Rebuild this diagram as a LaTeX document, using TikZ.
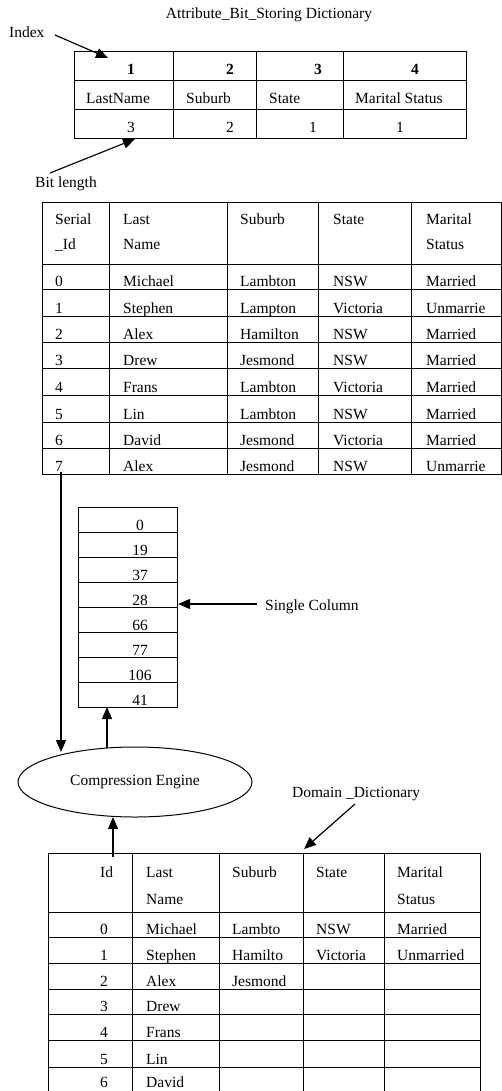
\documentclass[tikz,border=0pt]{standalone}
\usepackage{fontspec}
\setmainfont{Liberation Serif}
\usetikzlibrary{arrows.meta,shapes.geometric}
\begin{document}
\begin{tikzpicture}[x=1pt,y=-1pt,
  txt/.style={font=\fontsize{15.5}{18}\selectfont, inner sep=0pt, anchor=base west},
  ctxt/.style={txt, anchor=base},
  btxt/.style={ctxt, font=\fontsize{15.5}{18}\selectfont\bfseries},
  grid/.style={line width=1pt},
  arr/.style={line width=1.2pt, -{Triangle[length=12pt,width=10pt]}}]

\useasboundingbox[fill=white] (0,0) rectangle (502,1091);

% ---------- Attribute_Bit_Storing Dictionary ----------
\node[ctxt] (title) at (269,19) {Attribute\_Bit\_Storing Dictionary};
\node[txt] (index) at (9,38) {Index};
\draw[grid] (74,52) rectangle (466,139);
\draw[grid] (74,81) -- (466,81) (74,110) -- (466,110);
\foreach \x in {173,256,343} \draw[grid] (\x,52) -- (\x,139);
\node[btxt] (i1) at (131,75) {1};
\node[btxt] (i2) at (230,75) {2};
\node[btxt] (i3) at (318,75) {3};
\node[btxt] (i4) at (415,75) {4};
\node[txt] (a1) at (86,104) {LastName};
\node[txt] (a2) at (186,104) {Suburb};
\node[txt] (a3) at (269,104) {State};
\node[txt] (a4) at (355,104) {Marital Status};
\node[ctxt] (b1) at (131,133) {3};
\node[ctxt] (b2) at (230,133) {2};
\node[ctxt] (b3) at (313,133) {1};
\node[ctxt] (b4) at (400,133) {1};
\node[txt] (bitlen) at (35,188) {Bit length};
\coordinate (ixs) at (55,35);
\coordinate (ixt) at (108,58);
\draw[arr] (ixs) -- (ixt);
\coordinate (bls) at (50,173);
\coordinate (blt) at (135,139);
\draw[arr] (bls) -- (blt);

% ---------- Main table ----------
\draw[grid] (42,203) rectangle (501,474);
\foreach \y in {264,289,316,342,368,395,422,448} \draw[grid] (42,\y) -- (501,\y);
\foreach \x in {109,227,318,411} \draw[grid] (\x,203) -- (\x,474);
\node[txt] (h1a) at (55,225) {Serial};
\node[txt] (h1b) at (55,250) {\_Id};
\node[txt] (h2a) at (123,225) {Last};
\node[txt] (h2b) at (123,250) {Name};
\node[txt] (h3) at (240,225) {Suburb};
\node[txt] (h4) at (333,225) {State};
\node[txt] (h5a) at (426,225) {Marital};
\node[txt] (h5b) at (426,250) {Status};
\foreach \id/\n/\s/\st/\m [count=\i] in {
  0/Michael/Lambton/NSW/Married,
  1/Stephen/Lampton/Victoria/Unmarrie,
  2/Alex/Hamilton/NSW/Married,
  3/Drew/Jesmond/NSW/Married,
  4/Frans/Lambton/Victoria/Married,
  5/Lin/Lambton/NSW/Married,
  6/David/Jesmond/Victoria/Married,
  7/Alex/Jesmond/NSW/Unmarrie} {
  \pgfmathsetmacro{\yb}{{264,289,316,342,368,395,422,448,474}[\i]-3}
  \node[txt] (m\i a) at (55,\yb) {\id};
  \node[txt] (m\i b) at (123,\yb) {\n};
  \node[txt] (m\i c) at (240,\yb) {\s};
  \node[txt] (m\i d) at (333,\yb) {\st};
  \node[txt] (m\i e) at (426,\yb) {\m};
}

% ---------- Single column ----------
\draw[grid] (78,507) rectangle (177,707);
\foreach \y in {532,557,582,607,632,657,682} \draw[grid] (78,\y) -- (177,\y);
\foreach \v [count=\i] in {0,19,37,28,66,77,106,41}
  \node[ctxt] (s\i) at (140,{507+25*\i-2}) {\v};
\node[txt] (single) at (265,610) {Single Column};
\coordinate (scs) at (257,604);
\coordinate (sct) at (178,604);
\draw[arr] (scs) -- (sct);

% ---------- Compression engine ----------
\node[draw, ellipse, line width=1pt, minimum width=234pt, minimum height=70pt,
      inner sep=0pt, font=\fontsize{15.5}{18}\selectfont] (ce) at (135,782) {Compression Engine};
\coordinate (c7s) at (61,472);
\coordinate (c7t) at (61,752);
\draw[arr] (c7s) -- (c7t);
\coordinate (ups) at (107,748);
\coordinate (upt) at (107,707);
\draw[arr] (ups) -- (upt);
\coordinate (dts) at (113,857);
\coordinate (dtt) at (113,817);
\draw[arr] (dts) -- (dtt);

% ---------- Domain dictionary ----------
\node[txt] (domain) at (292,797) {Domain \_Dictionary};
\coordinate (dds) at (355,804);
\coordinate (ddt) at (304,849);
\draw[arr] (dds) -- (ddt);
\foreach \x in {48,132,219,303,384,480} \draw[grid] (\x,853) -- (\x,1095);
\foreach \y in {853,912,937,963,989,1014,1040,1067} \draw[grid] (48,\y) -- (480,\y);
\node[txt] (dh1) at (100,877) {Id};
\node[txt] (dh2a) at (146,877) {Last};
\node[txt] (dh2b) at (146,904) {Name};
\node[txt] (dh3) at (232,877) {Suburb};
\node[txt] (dh4) at (316,877) {State};
\node[txt] (dh5a) at (397,877) {Marital};
\node[txt] (dh5b) at (397,904) {Status};
\foreach \id/\n/\s/\st/\m [count=\i] in {
  0/Michael/Lambto/NSW/Married,
  1/Stephen/Hamilto/Victoria/Unmarried,
  2/Alex/Jesmond//,
  3/Drew///,
  4/Frans///,
  5/Lin///,
  6/David///} {
  \pgfmathsetmacro{\yb}{{912,937,963,989,1014,1040,1067,1090}[\i]-3}
  \node[ctxt] (d\i a) at (104,\yb) {\id};
  \node[txt] (d\i b) at (146,\yb) {\n};
  \node[txt] (d\i c) at (232,\yb) {\s};
  \node[txt] (d\i d) at (316,\yb) {\st};
  \node[txt] (d\i e) at (397,\yb) {\m};
}
\end{tikzpicture}
\end{document}
